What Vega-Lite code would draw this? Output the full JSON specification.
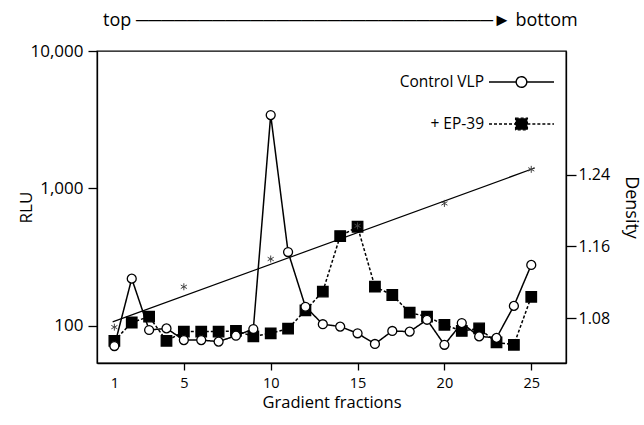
{
  "$schema": "https://vega.github.io/schema/vega-lite/v6.json",
  "width": 469,
  "height": 312,
  "autosize": {"type": "none"},
  "padding": {"left": 97, "top": 51, "right": 78, "bottom": 62},
  "background": "white",
  "config": {
    "font": "Open Sans",
    "view": {"stroke": "black", "strokeWidth": 1.3},
    "axis": {
      "grid": false,
      "domainColor": "black",
      "domainWidth": 1.3,
      "tickColor": "black",
      "tickWidth": 1.3,
      "labelColor": "black",
      "titleColor": "black",
      "labelFont": "Open Sans",
      "titleFont": "Open Sans",
      "titleFontWeight": "normal"
    }
  },
  "title": {
    "text": "top ────────────────────────────► bottom",
    "anchor": "start",
    "frame": "group",
    "dx": 6,
    "offset": 12,
    "fontSize": 18,
    "fontWeight": "normal",
    "font": "Open Sans",
    "color": "black"
  },
  "datasets": {
    "rlu": [
      {"fraction": 1, "series": "+ EP-39", "rlu": 78},
      {"fraction": 2, "series": "+ EP-39", "rlu": 106},
      {"fraction": 3, "series": "+ EP-39", "rlu": 117},
      {"fraction": 4, "series": "+ EP-39", "rlu": 78},
      {"fraction": 5, "series": "+ EP-39", "rlu": 91},
      {"fraction": 6, "series": "+ EP-39", "rlu": 91},
      {"fraction": 7, "series": "+ EP-39", "rlu": 91},
      {"fraction": 8, "series": "+ EP-39", "rlu": 92},
      {"fraction": 9, "series": "+ EP-39", "rlu": 84},
      {"fraction": 10, "series": "+ EP-39", "rlu": 88.5},
      {"fraction": 11, "series": "+ EP-39", "rlu": 95.6},
      {"fraction": 12, "series": "+ EP-39", "rlu": 130},
      {"fraction": 13, "series": "+ EP-39", "rlu": 178},
      {"fraction": 14, "series": "+ EP-39", "rlu": 451},
      {"fraction": 15, "series": "+ EP-39", "rlu": 527},
      {"fraction": 16, "series": "+ EP-39", "rlu": 193},
      {"fraction": 17, "series": "+ EP-39", "rlu": 168},
      {"fraction": 18, "series": "+ EP-39", "rlu": 125},
      {"fraction": 19, "series": "+ EP-39", "rlu": 117},
      {"fraction": 20, "series": "+ EP-39", "rlu": 102},
      {"fraction": 21, "series": "+ EP-39", "rlu": 92},
      {"fraction": 22, "series": "+ EP-39", "rlu": 96},
      {"fraction": 23, "series": "+ EP-39", "rlu": 76},
      {"fraction": 24, "series": "+ EP-39", "rlu": 73},
      {"fraction": 25, "series": "+ EP-39", "rlu": 163},
      {"fraction": 1, "series": "Control VLP", "rlu": 71.5},
      {"fraction": 2, "series": "Control VLP", "rlu": 221},
      {"fraction": 3, "series": "Control VLP", "rlu": 93.5},
      {"fraction": 4, "series": "Control VLP", "rlu": 96},
      {"fraction": 5, "series": "Control VLP", "rlu": 79},
      {"fraction": 6, "series": "Control VLP", "rlu": 79},
      {"fraction": 7, "series": "Control VLP", "rlu": 77},
      {"fraction": 8, "series": "Control VLP", "rlu": 85},
      {"fraction": 9, "series": "Control VLP", "rlu": 95},
      {"fraction": 10, "series": "Control VLP", "rlu": 3420},
      {"fraction": 11, "series": "Control VLP", "rlu": 345},
      {"fraction": 12, "series": "Control VLP", "rlu": 138},
      {"fraction": 13, "series": "Control VLP", "rlu": 103},
      {"fraction": 14, "series": "Control VLP", "rlu": 99},
      {"fraction": 15, "series": "Control VLP", "rlu": 88.5},
      {"fraction": 16, "series": "Control VLP", "rlu": 74},
      {"fraction": 17, "series": "Control VLP", "rlu": 92},
      {"fraction": 18, "series": "Control VLP", "rlu": 91},
      {"fraction": 19, "series": "Control VLP", "rlu": 111},
      {"fraction": 20, "series": "Control VLP", "rlu": 73},
      {"fraction": 21, "series": "Control VLP", "rlu": 105},
      {"fraction": 22, "series": "Control VLP", "rlu": 84},
      {"fraction": 23, "series": "Control VLP", "rlu": 82},
      {"fraction": 24, "series": "Control VLP", "rlu": 140},
      {"fraction": 25, "series": "Control VLP", "rlu": 278}
    ],
    "density": [
      {"fraction": 1, "density": 1.070},
      {"fraction": 5, "density": 1.115},
      {"fraction": 10, "density": 1.146},
      {"fraction": 15, "density": 1.183},
      {"fraction": 20, "density": 1.208},
      {"fraction": 25, "density": 1.246}
    ],
    "densityFit": [
      {"fraction": 0.9, "density": 1.0758},
      {"fraction": 25.2, "density": 1.2475}
    ]
  },
  "layer": [
    {
      "data": {"name": "rlu"},
      "encoding": {
        "x": {
          "field": "fraction",
          "type": "quantitative",
          "scale": {"domain": [0, 27], "nice": false, "zero": false},
          "axis": {
            "values": [1, 5, 10, 15, 20, 25],
            "title": "Gradient fractions",
            "titleFontSize": 16.5,
            "labelFontSize": 14.5,
            "tickSize": 7,
            "labelPadding": 6,
            "titlePadding": 5,
            "labelFlush": false,
            "tickColor": {"condition": {"test": "datum.value === 1", "value": "transparent"}, "value": "black"}
          }
        },
        "y": {
          "field": "rlu",
          "type": "quantitative",
          "scale": {"type": "log", "domain": [53.8, 10000], "nice": false},
          "axis": {
            "values": [100, 1000, 10000],
            "format": ",",
            "title": "RLU",
            "titleFontSize": 17,
            "labelFontSize": 17,
            "tickSize": 9,
            "labelPadding": 5,
            "titlePadding": -6
          }
        }
      },
      "layer": [
        {
          "mark": {"type": "line", "color": "black", "strokeWidth": 1.5},
          "encoding": {
            "strokeDash": {
              "field": "series",
              "type": "nominal",
              "scale": {"domain": ["Control VLP", "+ EP-39"], "range": [[1, 0], [3, 2]]},
              "legend": {
                "title": null,
                "orient": "none",
                "legendX": 391,
                "legendY": -2.5,
                "padding": 0,
                "labelFontSize": 15.5,
                "labelFont": "Open Sans",
                "labelColor": "black",
                "labelAlign": "right",
                "labelOffset": -71,
                "labelLimit": 200,
                "symbolType": {"expr": "datum.value === 'Control VLP' ? 'M-1,0H-0.163M0.163,0H1M-0.163,0A0.163,0.163 0 1,1 0.163,0A0.163,0.163 0 1,1 -0.163,0' : 'M-1,0H-0.18M0.18,0H1M-0.18,-0.18H0.18V0.18H-0.18Z'"},
                "symbolFillColor": {"expr": "datum.value === 'Control VLP' ? 'white' : 'black'"},
                "symbolSize": 4225,
                "symbolStrokeWidth": 1.4,
                "symbolStrokeColor": "black",
                "rowPadding": -15
              }
            }
          }
        },
        {
          "mark": {"type": "point", "filled": true, "stroke": "black", "strokeWidth": 1.3, "opacity": 1},
          "encoding": {
            "shape": {
              "field": "series",
              "type": "nominal",
              "scale": {"domain": ["+ EP-39", "Control VLP"], "range": ["square", "circle"]},
              "legend": null
            },
            "fill": {
              "field": "series",
              "type": "nominal",
              "scale": {"domain": ["+ EP-39", "Control VLP"], "range": ["black", "white"]},
              "legend": null
            },
            "size": {
              "field": "series",
              "type": "nominal",
              "scale": {"domain": ["+ EP-39", "Control VLP"], "range": [110, 80]},
              "legend": null
            }
          }
        }
      ]
    },
    {
      "encoding": {
        "x": {"field": "fraction", "type": "quantitative"},
        "y": {
          "field": "density",
          "type": "quantitative",
          "scale": {"domain": [1.03, 1.378], "nice": false, "zero": false},
          "axis": {
            "orient": "right",
            "values": [1.08, 1.16, 1.24],
            "format": ".2f",
            "title": "Density",
            "titleFontSize": 18,
            "titleAngle": 90,
            "labelFontSize": 16,
            "tickSize": 10,
            "labelPadding": 2,
            "titlePadding": 12
          }
        }
      },
      "layer": [
        {
          "data": {"name": "densityFit"},
          "mark": {"type": "line", "color": "black", "strokeWidth": 1.2}
        },
        {
          "data": {"name": "density"},
          "mark": {"type": "point", "shape": "M0,-1V1M-0.87,-0.5L0.87,0.5M-0.87,0.5L0.87,-0.5", "size": 49, "filled": false, "stroke": "#444", "strokeWidth": 1, "opacity": 1}
        }
      ]
    }
  ],
  "resolve": {"scale": {"y": "independent"}}
}
